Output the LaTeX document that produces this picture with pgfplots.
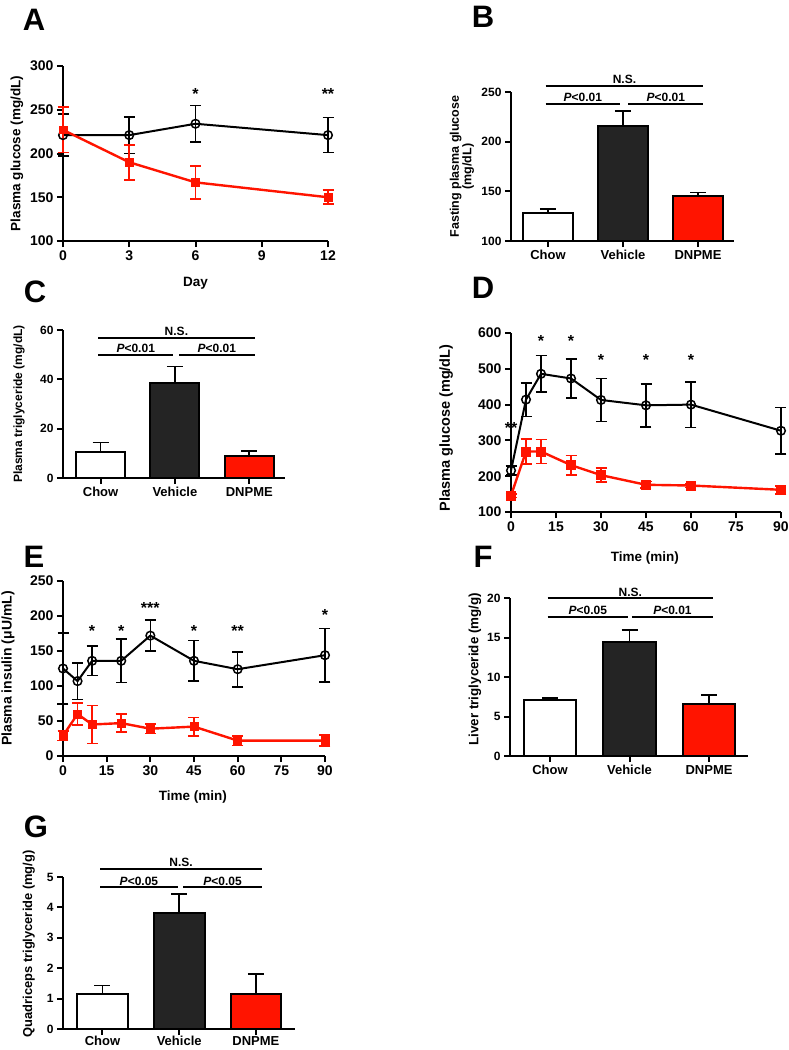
\documentclass[border=0pt]{standalone}
\usepackage{fontspec}
\setmainfont{Liberation Sans}
\usepackage{pgfplots}
\pgfplotsset{compat=1.18}
\definecolor{gpred}{RGB}{255,20,0}
\definecolor{gpdark}{RGB}{36,36,36}

\newcommand{\fs}[1]{\fontsize{#1}{#1}\selectfont\bfseries}

\pgfplotsset{
  gpbase/.style={
    scale only axis, anchor=south west,
    axis lines*=left,
    axis line style={line width=2.2pt},
    every tick/.style={line width=2pt, black},
    major tick length=6pt,
    tick align=outside,
    /pgf/number format/assume math mode=true,
    /pgf/number format/1000 sep={},
    ylabel style={anchor=center},
    xlabel style={anchor=center},
  },
  gpline/.style={gpbase, clip=false,
    tick label style={font=\fs{14}},
    label style={font=\fs{13.5}},
  },
  gpbar/.style={gpbase, clip mode=individual,
    xtick={0,1,2}, xticklabels={Chow,Vehicle,DNPME},
    x tick label style={font=\fs{13}},
    y tick label style={font=\fs{12}},
    label style={font=\fs{12}},
  },
  blk/.style={black, line width=2pt, mark=o, mark size=4.3pt,
    mark options={line width=1.5pt, fill=white},
    error bars/y dir=both, error bars/y explicit,
    error bars/error bar style={line width=1.6pt, black},
    error bars/error mark options={rotate=90, line width=1.6pt, mark size=5.5pt, black}},
  rd/.style={gpred, line width=2.4pt, mark=square*, mark size=3.8pt,
    mark options={line width=0.5pt, fill=gpred},
    error bars/y dir=both, error bars/y explicit,
    error bars/error bar style={line width=1.6pt, gpred},
    error bars/error mark options={rotate=90, line width=1.6pt, mark size=5.5pt, gpred}},
  gpbar bar/.style={ybar, bar width=0.66, draw=black, line width=2pt, fill=#1,
    error bars/y dir=plus, error bars/y explicit,
    error bars/error bar style={line width=1.8pt, black},
    error bars/error mark options={rotate=90, line width=1.8pt, mark size=8pt, black}},
}

\newcommand{\sigmarks}[6]{% ns-line y, p-line y, right end, left-p end, right-p start, p value
  \draw[line width=2pt] (axis cs:-0.03,#1) -- (axis cs:#3,#1);
  \draw[line width=2pt] (axis cs:-0.03,#2) -- (axis cs:#4,#2);
  \draw[line width=2pt] (axis cs:#5,#2) -- (axis cs:#3,#2);
  \node[anchor=south, inner sep=2pt, font=\fs{12}] at (axis cs:{(#3-0.03)/2},#1) {N.S.};
  \node[anchor=south, inner sep=2pt, font=\fs{12}] at (axis cs:{(#4-0.03)/2},#2) {\textit{P}<#6};
  \node[anchor=south, inner sep=2pt, font=\fs{12}] at (axis cs:{(#5+#3)/2},#2) {\textit{P}<#6};
}
\newcommand{\starmark}[3]{\node[font=\fs{16}, yshift=-4pt] at (axis cs:#1,#2) {#3};}

\begin{document}
\begin{tikzpicture}[font=\bfseries]

% ---------- A ----------
\begin{axis}[gpline, at={(63pt,-241pt)}, width=265pt, height=175pt,
  xmin=0, xmax=12, ymin=100, ymax=300,
  xtick={0,3,6,9,12}, ytick={100,150,200,250,300},
  ylabel={Plasma glucose (mg/dL)}, xlabel={Day},
  ylabel style={at={(axis description cs:-0.174,0.5)}},
  xlabel style={at={(axis description cs:0.5,-0.24)}}]
\addplot[blk] coordinates {(0,221) +- (0,24) (3,221) +- (0,21) (6,234) +- (0,21) (12,221) +- (0,20)};
\addplot[rd] coordinates {(0,227) +- (0,26) (3,190) +- (0,20) (6,167) +- (0,19) (12,150) +- (0,8)};
\starmark{6}{273}{*}
\starmark{12}{273}{**}
\end{axis}

% ---------- B ----------
\begin{axis}[gpbar, at={(511pt,-241pt)}, width=223pt, height=149pt,
  xmin=-0.493, xmax=2.48, ymin=100, ymax=250,
  ytick={100,150,200,250},
  ylabel={Fasting plasma glucose\\(mg/dL)},
  ylabel style={align=center, font=\fs{12.5}, at={(axis description cs:-0.22,0.5)}}]
\addplot[gpbar bar=white] coordinates {(0,128.5) +- (0,4.1)};
\addplot[gpbar bar=gpdark] coordinates {(1,216) +- (0,14.5)};
\addplot[gpbar bar=gpred] coordinates {(2,145) +- (0,3.8)};
\sigmarks{256}{238.3}{2.07}{0.96}{1.07}{0.01}
\end{axis}

% ---------- C ----------
\begin{axis}[gpbar, at={(63pt,-478pt)}, width=222pt, height=148pt,
  xmin=-0.505, xmax=2.48, ymin=0, ymax=60,
  ytick={0,20,40,60},
  ylabel={Plasma triglyceride (mg/dL)},
  ylabel style={at={(axis description cs:-0.198,0.5)}}]
\addplot[gpbar bar=white] coordinates {(0,10.4) +- (0,4)};
\addplot[gpbar bar=gpdark] coordinates {(1,38.4) +- (0,6.8)};
\addplot[gpbar bar=gpred] coordinates {(2,9.1) +- (0,2)};
\sigmarks{56.9}{49.9}{2.07}{0.976}{1.056}{0.01}
\end{axis}

% ---------- D ----------
\begin{axis}[gpline, at={(511pt,-512pt)}, width=270pt, height=179pt,
  xmin=0, xmax=90, ymin=100, ymax=600,
  xtick={0,15,30,45,60,75,90}, ytick={100,200,300,400,500,600},
  ylabel={Plasma glucose (mg/dL)}, xlabel={Time (min)},
  ylabel style={font=\fs{14.5}, at={(axis description cs:-0.24,0.47)}},
  xlabel style={at={(axis description cs:0.496,-0.257)}}]
\addplot[blk] coordinates {(0,216) +- (0,13) (5,414) +- (0,47) (10,486) +- (0,51) (20,473) +- (0,54)
  (30,413) +- (0,60) (45,398) +- (0,60) (60,400) +- (0,64) (90,327) +- (0,65)};
\addplot[rd, mark size=4.4pt] coordinates {(0,146) +- (0,5) (5,269) +- (0,35) (10,269) +- (0,33) (20,231) +- (0,27)
  (30,203) +- (0,20) (45,176) +- (0,9) (60,174) +- (0,5) (90,162) +- (0,11)};
\starmark{0}{347}{**}
\starmark{10}{588}{*}
\starmark{20}{588}{*}
\starmark{30}{535}{*}
\starmark{45}{535}{*}
\starmark{60}{535}{*}
\end{axis}

% ---------- E ----------
\begin{axis}[gpline, at={(63pt,-756pt)}, width=262pt, height=175pt,
  xmin=0, xmax=90, ymin=0, ymax=250,
  xtick={0,15,30,45,60,75,90}, ytick={0,50,100,150,200,250},
  ylabel={Plasma insulin ({\char"03BC}U/mL)}, xlabel={Time (min)},
  ylabel style={font=\fs{14}, at={(axis description cs:-0.21,0.5)}},
  xlabel style={at={(axis description cs:0.496,-0.234)}}]
\addplot[blk] coordinates {(0,125) +- (0,51) (5,107) +- (0,26) (10,136) +- (0,21) (20,136) +- (0,31)
  (30,172) +- (0,22) (45,136) +- (0,29) (60,124) +- (0,25) (90,144) +- (0,38)};
\addplot[rd, mark size=4pt] coordinates {(0,29) +- (0,7) (5,60) +- (0,16) (10,45) +- (0,27) (20,47) +- (0,13)
  (30,39) +- (0,7) (45,42) +- (0,13) (60,22) +- (0,7) (90,22) +- (0,8)};
\starmark{10}{184}{*}
\starmark{20}{184}{*}
\starmark{45}{184}{*}
\starmark{60}{184}{**}
\starmark{30}{217}{***}
\starmark{90}{207}{*}
\end{axis}

% ---------- F ----------
\begin{axis}[gpbar, at={(510pt,-756pt)}, width=238pt, height=158pt,
  xmin=-0.503, xmax=2.49, ymin=0, ymax=20,
  ytick={0,5,10,15,20},
  ylabel={Liver triglyceride (mg/g)},
  ylabel style={font=\fs{13.4}, at={(axis description cs:-0.147,0.55)}}]
\addplot[gpbar bar=white] coordinates {(0,7.05) +- (0,0.25)};
\addplot[gpbar bar=gpdark] coordinates {(1,14.4) +- (0,1.6)};
\addplot[gpbar bar=gpred] coordinates {(2,6.6) +- (0,1.1)};
\draw[line width=2pt] (axis cs:-0.03,19.95) -- (axis cs:2.05,19.95);
\draw[line width=2pt] (axis cs:-0.03,17.6) -- (axis cs:0.98,17.6);
\draw[line width=2pt] (axis cs:1.03,17.6) -- (axis cs:2.05,17.6);
\node[anchor=south, inner sep=2pt, font=\fs{12}] at (axis cs:1.01,19.95) {N.S.};
\node[anchor=south, inner sep=2pt, font=\fs{12}] at (axis cs:0.475,17.6) {\textit{P}<0.05};
\node[anchor=south, inner sep=2pt, font=\fs{12}] at (axis cs:1.54,17.6) {\textit{P}<0.01};
\end{axis}

% ---------- G ----------
\begin{axis}[gpbar, at={(63pt,-1029pt)}, width=232pt, height=152pt,
  xmin=-0.515, xmax=2.51, ymin=0, ymax=5,
  ytick={0,1,2,3,4,5},
  x tick label style={yshift=2pt},
  ylabel={Quadriceps triglyceride (mg/g)},
  ylabel style={font=\fs{12.9}, at={(axis description cs:-0.147,0.56)}}]
\addplot[gpbar bar=white] coordinates {(0,1.15) +- (0,0.28)};
\addplot[gpbar bar=gpdark] coordinates {(1,3.82) +- (0,0.61)};
\addplot[gpbar bar=gpred] coordinates {(2,1.15) +- (0,0.65)};
\sigmarks{5.26}{4.66}{2.08}{0.98}{1.05}{0.05}
\end{axis}

% panel letters
\node[font=\fs{31}] at (34pt,-20pt) {A};
\node[font=\fs{31}] at (483pt,-17pt) {B};
\node[font=\fs{31}] at (35pt,-292pt) {C};
\node[font=\fs{31}] at (483pt,-288pt) {D};
\node[font=\fs{31}] at (34pt,-557pt) {E};
\node[font=\fs{31}] at (483pt,-557pt) {F};
\node[font=\fs{31}] at (36pt,-827pt) {G};

\pgfresetboundingbox
\useasboundingbox (0,0) rectangle (788pt,-1050pt);
\end{tikzpicture}
\end{document}
